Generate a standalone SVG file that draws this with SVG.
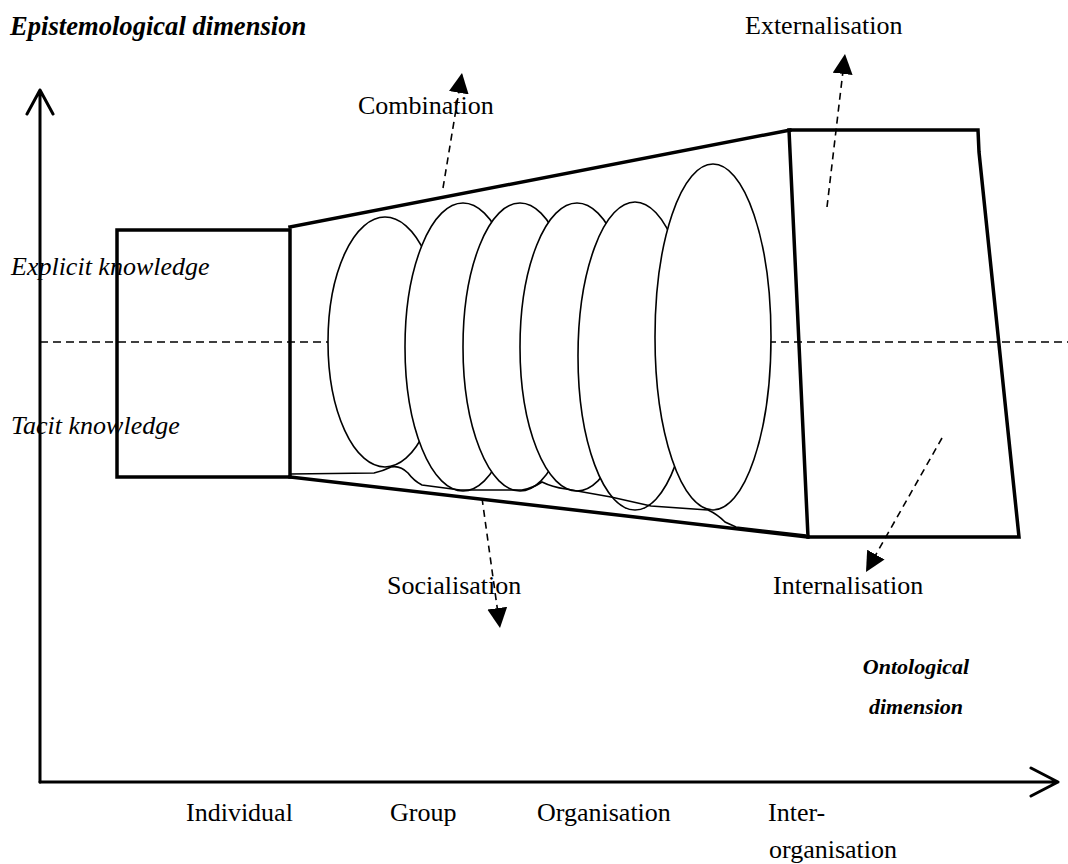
<svg xmlns="http://www.w3.org/2000/svg" width="1068" height="864" viewBox="0 0 1068 864">
  <style>
    text { font-family: "Liberation Serif", "Times New Roman", serif; fill: #000; font-size: 26px; }
    .bi { font-weight: bold; font-style: italic; }
    .it { font-style: italic; }
    .thick { fill: none; stroke: #000; stroke-width: 3.5; stroke-linecap: square; }
    .axis { fill: none; stroke: #000; stroke-width: 3; stroke-linecap: round; stroke-linejoin: round; }
    .disc { fill: #fff; stroke: #000; stroke-width: 1.6; }
    .thin { fill: none; stroke: #000; stroke-width: 1.6; }
    .midline { fill: none; stroke: #000; stroke-width: 1.5; stroke-dasharray: 8 5; }
    .flow { fill: none; stroke: #000; stroke-width: 1.6; stroke-dasharray: 7 5; marker-end: url(#head); }
  </style>
  <defs>
    <marker id="head" viewBox="0 0 20 20" refX="20" refY="10" markerWidth="20" markerHeight="20" markerUnits="userSpaceOnUse" orient="auto">
      <path d="M0,0 L20,10 L0,20 Z" fill="#000"/>
    </marker>
  </defs>

  <!-- axes -->
  <g id="axes">
    <path class="axis" d="M40,782 L40,90 M27,114 L40,90 L53,114"/>
    <path class="axis" d="M40,782 L1058,782 M1031,768 L1058,782 L1031,796"/>
  </g>

  <!-- explicit / tacit divider -->
  <path id="divider" class="midline" d="M40,342 L1068,342"/>

  <!-- individual level -->
  <g id="individual">
    <rect class="thick" x="117" y="230" width="173" height="247"/>
  </g>

  <!-- group / organisation funnel -->
  <g id="funnel">
    <path class="thick" d="M290,227 L790,130"/>
    <path class="thick" d="M290,477 L808,537"/>
    <ellipse class="disc" cx="385" cy="342" rx="57" ry="125"/>
    <ellipse class="disc" cx="463" cy="347" rx="58" ry="144"/>
    <ellipse class="disc" cx="520" cy="347" rx="57" ry="144"/>
    <ellipse class="disc" cx="577" cy="347" rx="57" ry="144"/>
    <ellipse class="disc" cx="635" cy="356" rx="57" ry="154"/>
    <ellipse class="disc" cx="713" cy="337" rx="58" ry="173"/>
    <path class="thin" d="M290,474 L374,473 Q383,471 391,467 Q400,465 408,473 Q414,481 422,485 L460,490 L522,490 Q533,488 542,482 Q552,487 566,489 L611,497 L651,506 L708,510 Q717,514 725,522 L736,527 L806,535"/>
  </g>

  <!-- inter-organisation level -->
  <g id="inter-organisation">
    <path class="thick" d="M790,130 L978,130 L979,152 L1019,537 L808,537 L789,130"/>
  </g>

  <!-- knowledge conversion flows -->
  <g id="connectors">
    <path class="flow" d="M443,188 L462,73"/>
    <path class="flow" d="M827,207 L845,54"/>
    <path class="flow" d="M942,438 L866,572"/>
    <path class="flow" d="M482,498 L500,628"/>
  </g>

  <!-- labels -->
  <g id="labels">
    <text class="bi" x="10" y="35" style="font-size:26.6px">Epistemological dimension</text>
    <text class="it" x="11" y="275">Explicit knowledge</text>
    <text class="it" x="11" y="434">Tacit knowledge</text>
    <text x="358" y="114">Combination</text>
    <text x="745" y="34">Externalisation</text>
    <text x="387" y="594">Socialisation</text>
    <text x="773" y="594">Internalisation</text>
    <text class="bi" x="916" y="674" text-anchor="middle" style="font-size:22px">Ontological</text>
    <text class="bi" x="916" y="714" text-anchor="middle" style="font-size:22px">dimension</text>
    <text x="186" y="821">Individual</text>
    <text x="390" y="821">Group</text>
    <text x="537" y="821">Organisation</text>
    <text x="768" y="821">Inter-</text>
    <text x="769" y="858">organisation</text>
  </g>
</svg>
